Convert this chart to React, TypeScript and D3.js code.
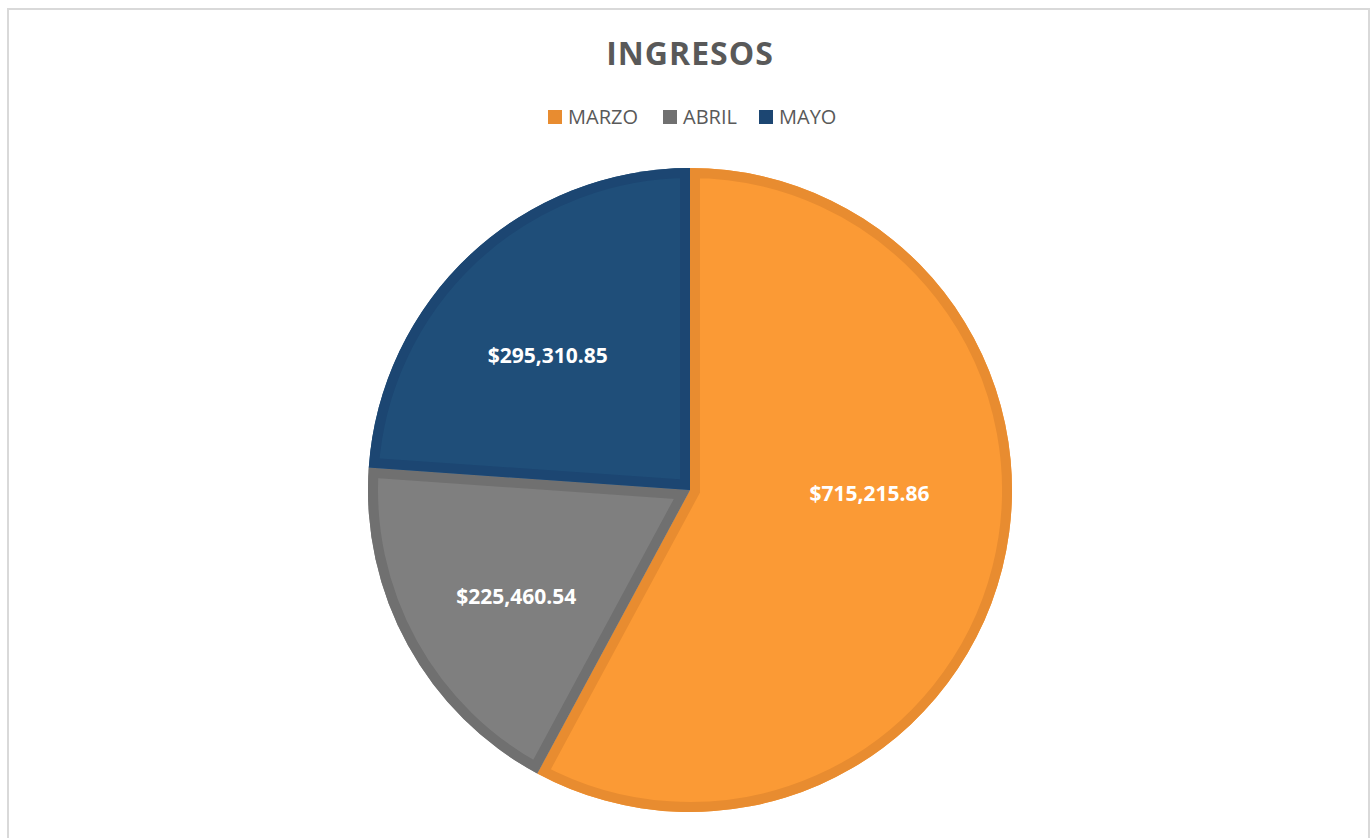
import React from "react";
import * as d3 from "d3";

const categories = ["MARZO", "ABRIL", "MAYO"];
const values = [715215.86, 225460.54, 295310.85];
const labels = ["$715,215.86", "$225,460.54", "$295,310.85"];
const fills = ["#FB9A35", "#7F7F7F", "#1F4E79"];
const strokes = ["#E88C30", "#707070", "#1C4672"];
// label nudges (style only), in px
const labelNudge: [number, number][] = [[-14, -45], [1, 10], [-6, 11]];

const W = 1371;
const H = 838;
const cx = 690;
const cy = 490;
const R = 322;
const BW = 10;
const FONT = "'Open Sans', 'Liberation Sans', sans-serif";

export default function App() {
  const pie = d3.pie<number>().sort(null).startAngle(0).endAngle(2 * Math.PI);
  const arcs = pie(values);
  const arc = d3.arc<d3.PieArcDatum<number>>().innerRadius(0).outerRadius(R);
  const labelArc = d3.arc<d3.PieArcDatum<number>>().innerRadius(R * 0.62).outerRadius(R * 0.62);

  const legendX = [548, 663, 759];

  return (
    <svg width={W} height={H} style={{ position: "absolute", left: 0, top: 0 }}>
      <rect x={0} y={0} width={W} height={H} fill="#fff" />
      <rect x={8} y={9} width={1361} height={H + 20} fill="none" stroke="#D9D9D9" strokeWidth={2} />
      <text x={690} y={65} textAnchor="middle" fontFamily={FONT} fontWeight={700} fontSize={32} fill="#595959" letterSpacing={1}>
        INGRESOS
      </text>
      {categories.map((c, i) => (
        <g key={c}>
          <rect x={legendX[i]} y={110} width={14} height={14} fill={strokes[i]} />
          <text x={legendX[i] + 20} y={124} fontFamily={FONT} fontSize={20} fill="#595959">
            {c}
          </text>
        </g>
      ))}
      <defs>
        {arcs.map((a, i) => (
          <clipPath id={`clip${i}`} key={i}>
            <path d={arc(a) || ""} />
          </clipPath>
        ))}
      </defs>
      <g transform={`translate(${cx},${cy})`}>
        {arcs.map((a, i) => (
          <g key={i}>
            <path d={arc(a) || ""} fill={fills[i]} />
            <path d={arc(a) || ""} fill="none" stroke={strokes[i]} strokeWidth={BW * 2} clipPath={`url(#clip${i})`} strokeLinejoin="miter" />
          </g>
        ))}
        {arcs.map((a, i) => {
          const [x, y] = labelArc.centroid(a);
          return (
            <text
              key={i}
              x={x + labelNudge[i][0]}
              y={y + labelNudge[i][1] + 7.5}
              textAnchor="middle"
              fontFamily={FONT}
              fontWeight={700}
              fontSize={21}
              fill="#FFFFFF"
            >
              {labels[i]}
            </text>
          );
        })}
      </g>
    </svg>
  );
}
